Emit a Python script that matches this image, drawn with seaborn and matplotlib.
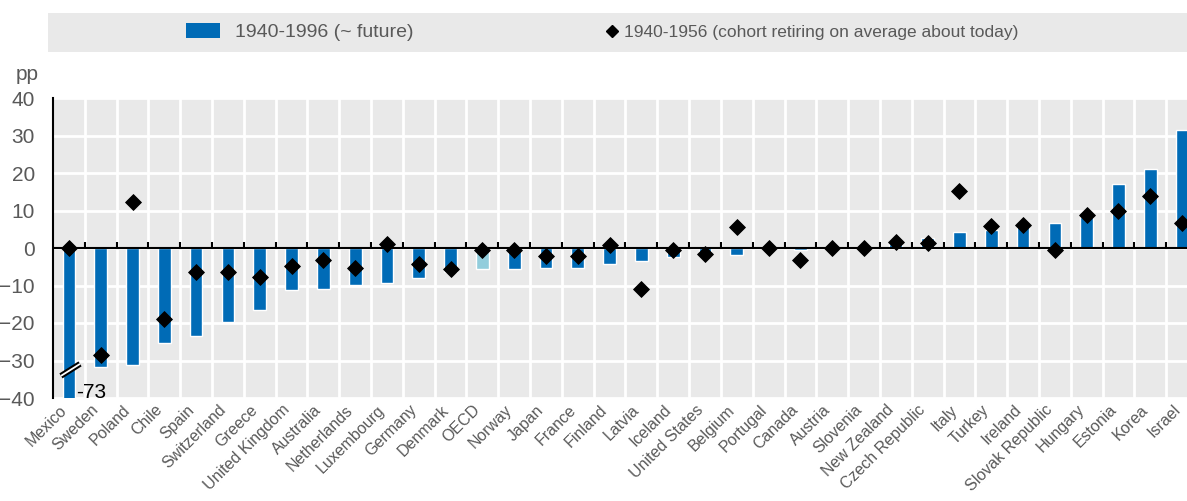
import numpy as np
import pandas as pd
import matplotlib.pyplot as plt
import matplotlib.patches as mpatches
import matplotlib.transforms as mtransforms
from matplotlib.lines import Line2D
import seaborn as sns

# data (pp change)
countries = ["Mexico", "Sweden", "Poland", "Chile", "Spain", "Switzerland", "Greece",
             "United Kingdom", "Australia", "Netherlands", "Luxembourg", "Germany",
             "Denmark", "OECD", "Norway", "Japan", "France", "Finland", "Latvia",
             "Iceland", "United States", "Belgium", "Portugal", "Canada", "Austria",
             "Slovenia", "New Zealand", "Czech Republic", "Italy", "Turkey", "Ireland",
             "Slovak Republic", "Hungary", "Estonia", "Korea", "Israel"]
future = [-73, -31.6, -31.3, -25.2, -23.4, -19.6, -16.6, -11.2, -10.8, -9.8, -9.4, -8.1,
          -6.4, -5.7, -5.7, -5.4, -5.3, -4.3, -3.5, -2.5, -1.3, -1.9, -0.3, -0.5, 0.0,
          0.0, 1.2, 2.7, 4.3, 4.7, 6.0, 6.7, 8.4, 17.1, 21.1, 31.4]
today = [0.0, -28.5, 12.4, -18.9, -6.4, -6.4, -7.8, -4.9, -3.2, -5.4, 1.2, -4.3,
         -5.5, -0.6, -0.4, -2.2, -2.1, 0.7, -11.0, -0.6, -1.6, 5.5, 0.0, -3.1, 0.0,
         0.0, 1.5, 1.3, 15.3, 5.9, 6.2, -0.4, 8.9, 10.0, 14.0, 6.8]
label_future = "1940-1996 (~ future)"
label_today = "1940-1956 (cohort retiring on average about today)"
y_ticks = [-40, -30, -20, -10, 0, 10, 20, 30, 40]
break_at = -32.5

BLUE = "#006bb6"
LIGHT = "#92cddc"
BG = "#e9e9e9"
GREY = "#595959"

sns.set_style("white")
plt.rcParams["font.family"] = ["Liberation Sans", "DejaVu Sans"]

df = pd.DataFrame({"country": countries, "future": future, "today": today})
n = len(df)
pos = np.arange(n)

fig = plt.figure(figsize=(11.87, 5.01), dpi=100)
ax = fig.add_axes([53 / 1187, 103 / 501, 1145 / 1187, 300 / 501])
ax.set_facecolor(BG)

colors = [LIGHT if c == "OECD" else BLUE for c in countries]
sns.barplot(data=df, x="country", y="future", hue="country", palette=colors,
            width=0.4, legend=False, ax=ax, saturation=1, zorder=3)
sns.scatterplot(x=pos, y=df["today"], marker="D", s=65, color="black",
                edgecolor="black", ax=ax, zorder=5, legend=False)

ax.set_xlim(-0.5, n - 0.5)
ax.set_ylim(-40, 40)

# grid: white lines between categories and at every 10 pp
ax.set_xticks(pos + 0.5, minor=True)
ax.set_yticks(y_ticks)
ax.grid(which="minor", axis="x", color="white", lw=2, zorder=1)
ax.grid(which="major", axis="y", color="white", lw=2, zorder=1)
ax.set_axisbelow(True)

for s in ["top", "right", "bottom"]:
    ax.spines[s].set_visible(False)
ax.spines["left"].set_color("black")
ax.spines["left"].set_linewidth(1.5)
ax.tick_params(axis="y", direction="in", length=5, width=1.5, color="black",
               labelsize=15, labelcolor=GREY, pad=13)
ax.tick_params(axis="x", which="both", length=0)
ax.set_xticks(pos)
ax.set_xticklabels(countries, rotation=45, ha="right", rotation_mode="anchor",
                   fontsize=11.5, color=GREY)
ax.tick_params(axis="x", pad=3)
shift = mtransforms.ScaledTranslation(-7 / 72, 0, fig.dpi_scale_trans)
for lab in ax.get_xticklabels():
    lab.set_transform(lab.get_transform() + shift)
ax.set_xlabel("")
ax.set_ylabel("")

# zero line with small ticks between categories
ax.axhline(0, color="black", lw=1.5, zorder=4)
ax.vlines(pos[:-1] + 0.5, 0, 1.6, color="black", lw=1.5, zorder=4)

# axis break on the truncated Mexico bar
ax.plot([-0.25, 0.35], [break_at - 1.6, break_at + 1.6], color="black", lw=4.2,
        solid_capstyle="butt", zorder=6)
ax.plot([-0.25, 0.35], [break_at - 1.6, break_at + 1.6], color="white", lw=1.3,
        solid_capstyle="butt", zorder=7)
ax.text(0.24, -38.6, f"{future[0]:.0f}", fontsize=15, color="black",
        ha="left", va="center", zorder=7)

fig.text(27 / 1187, 1 - 75 / 501, "pp", fontsize=15, color=GREY, ha="center", va="center")

# legend band
fig.patches.append(mpatches.Rectangle((48 / 1187, 1 - 52 / 501), 1.0, 39 / 501,
                                      transform=fig.transFigure, facecolor=BG,
                                      edgecolor="none", zorder=0))
h_future = mpatches.Patch(facecolor=BLUE, edgecolor="none", label=label_future)
h_today = Line2D([], [], marker="D", color="black", ls="none", markersize=6,
                 label=label_today)
leg1 = fig.legend(handles=[h_future], loc="center left",
                  bbox_to_anchor=(186 / 1187, 1 - 32 / 501), frameon=False,
                  fontsize=14, labelcolor=GREY, handlelength=1.75, handleheight=0.85,
                  handletextpad=0.75, borderpad=0, borderaxespad=0)
leg2 = fig.legend(handles=[h_today], loc="center left",
                  bbox_to_anchor=(603 / 1187, 1 - 32 / 501), frameon=False,
                  fontsize=12.5, labelcolor=GREY, handlelength=1.0,
                  handletextpad=0.2, borderpad=0, borderaxespad=0)

fig.savefig("out.png", dpi=100)
